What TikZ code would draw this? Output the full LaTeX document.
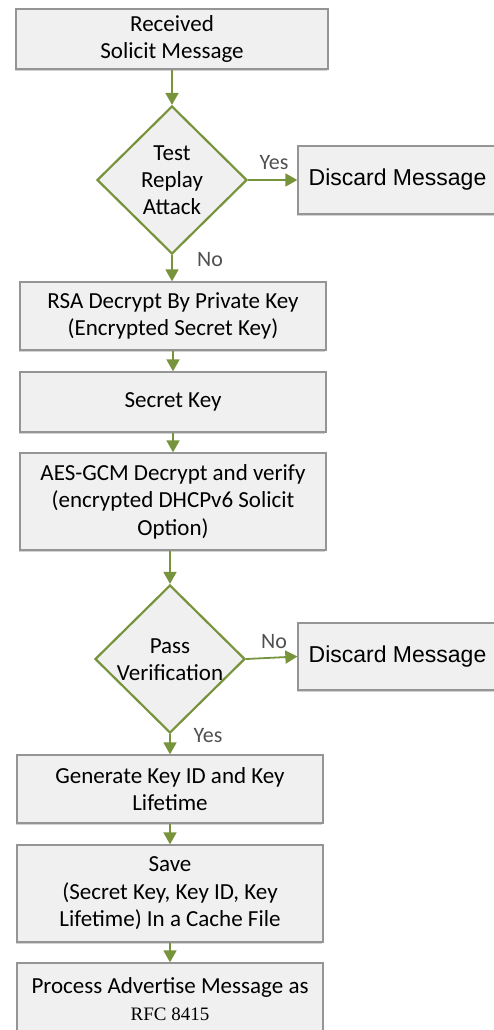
\documentclass[tikz,border=0pt]{standalone}
\usepackage{fontspec}
\setmainfont{Carlito}
\newfontfamily\arialf{Liberation Sans}
\newfontfamily\timesf{Liberation Serif}
\usetikzlibrary{shapes.geometric,arrows.meta,shadows}
\definecolor{olivegreen}{HTML}{77933C}
\definecolor{boxfill}{HTML}{F0F0F0}
\definecolor{boxline}{HTML}{959595}
\definecolor{lbl}{HTML}{505050}
\tikzset{
  procbox/.style={rectangle, draw=boxline, line width=1.3pt, fill=boxfill,
    inner sep=0pt, align=center, font=\fontsize{23}{27.5}\selectfont,
    drop shadow={shadow xshift=-1pt, shadow yshift=-2pt, opacity=0.35, fill=gray}},
  decide/.style={diamond, draw=olivegreen, line width=2.2pt, fill=boxfill,
    inner sep=0pt, aspect=1},
  dtext/.style={align=center, font=\fontsize{23}{27}\selectfont, inner sep=0pt},
  arr/.style={draw=olivegreen, line width=1.8pt,
    -{Triangle[length=12pt,width=13pt]}},
  answer/.style={font=\fontsize{22}{26}\selectfont, text=lbl, inner sep=0pt}
}
\begin{document}
\begin{tikzpicture}[x=1pt,y=-1pt]
\useasboundingbox (0,0) rectangle (493,1030);

% main column of steps
\node[procbox, minimum width=312pt, minimum height=60pt] (recv) at (172,39)
  {Received\\Solicit Message};
\node[decide, minimum width=150pt, minimum height=148pt] (replay) at (172,180) {};
\node[dtext] (replayt) at (172,180) {Test\\Replay\\Attack};
\node[procbox, minimum width=199pt, minimum height=68pt, font=\arialf\fontsize{23}{27}\selectfont]
  (drop1) at (397.5,180) {Discard Message};

\node[procbox, minimum width=306pt, minimum height=68pt] (rsa) at (173,316)
  {RSA Decrypt By Private Key\\(Encrypted Secret Key)};
\node[procbox, minimum width=306pt, minimum height=60pt] (skey) at (173,402)
  {Secret Key};
\node[procbox, minimum width=306pt, minimum height=97pt] (aes) at (173,501.5)
  {AES-GCM Decrypt and verify\\(encrypted DHCPv6 Solicit\\Option)};

\node[decide, minimum width=150pt, minimum height=148pt] (pass) at (170,659) {};
\node[dtext] (passt) at (170,660) {Pass\\Verification};
\node[procbox, minimum width=199pt, minimum height=67pt, font=\arialf\fontsize{23}{27}\selectfont]
  (drop2) at (397.5,656.5) {Discard Message};

\node[procbox, minimum width=306pt, minimum height=68pt] (gen) at (170,789)
  {Generate Key ID and Key\\Lifetime};
\node[procbox, minimum width=306pt, minimum height=97pt] (save) at (170,893.5)
  {Save\\(Secret Key, Key ID, Key\\Lifetime) In a Cache File};
\node[procbox, minimum width=306pt, minimum height=72pt] (adv) at (170,999)
  {Process Advertise Message as\\{\timesf\fontsize{19}{27}\selectfont RFC 8415}};

% connectors
\draw[arr] (recv.south) -- (replay.north);
\draw[arr] (replay.east) -- (drop1.west);
\draw[arr] (replay.south) -- (rsa.north -| replay.south);
\draw[arr] (rsa.south) -- (skey.north);
\draw[arr] (skey.south) -- (aes.north);
\draw[arr] (aes.south -| pass.north) -- (pass.north);
\draw[arr] (pass.east) -- (drop2.west);
\draw[arr] (pass.south) -- (gen.north);
\draw[arr] (gen.south) -- (save.north);
\draw[arr] (save.south) -- (adv.north);

% branch labels
\node[answer] (yes1) at (274,163) {Yes};
\node[answer] (no1) at (210,260) {No};
\node[answer] (no2) at (274,642) {No};
\node[answer] (yes2) at (208,736) {Yes};
\end{tikzpicture}
\end{document}
